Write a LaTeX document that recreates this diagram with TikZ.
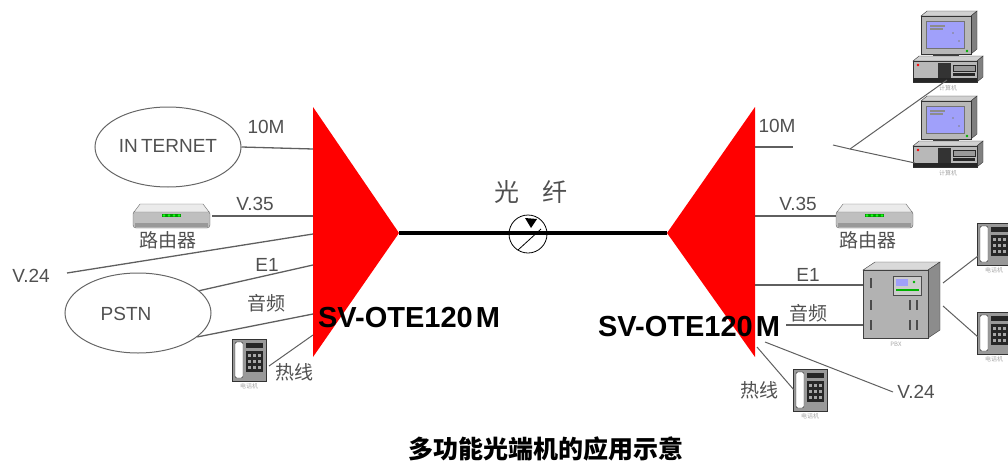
\documentclass[tikz,border=0pt]{standalone}
\usepackage{fontspec}
\setmainfont{Liberation Sans}
\newfontfamily\cjk{Noto Sans CJK SC}
\usetikzlibrary{arrows.meta,shapes.geometric}
\definecolor{screenblue}{RGB}{160,160,250}
\definecolor{wiregray}{RGB}{95,95,95}
\definecolor{labelgray}{RGB}{80,80,80}
\begin{document}
\begin{tikzpicture}[x=1pt,y=-1pt,
  lbl/.style={text=labelgray, font=\fontsize{19}{19}\selectfont, inner sep=0},
  cn/.style={text=labelgray, font=\cjk\fontsize{19}{19}\selectfont, inner sep=0},
  tiny/.style={text=black!35, font=\cjk\fontsize{6}{6}\selectfont, inner sep=0},
  model/.style={text=black, font=\bfseries\fontsize{29}{29}\selectfont, inner sep=0},
  wire/.style={draw=wiregray, line width=1.3pt},
  thinwire/.style={draw=wiregray, line width=1pt},
  cloud/.style={ellipse, draw=black!60, line width=1pt, inner sep=0},
  iconbox/.style={inner sep=0, anchor=north west},
  router/.pic={
    \node[iconbox, minimum width=77pt, minimum height=26pt] (-box) at (0,0) {};
    \filldraw[fill=black!25, draw=black!60, rounded corners=3pt] (0,8) rectangle (77,25);
    \filldraw[fill=black!8, draw=black!60] (1,9) -- (7,1) -- (70,1) -- (76,9) -- cycle;
    \fill[black!40] (2,20) rectangle (75,24);
    \fill[green!60!black] (29,11) rectangle (48,14);
    \foreach \i in {31,36,41,46} \fill[green!90!white] (\i,12.5) circle (1.3);
  },
  computer/.pic={
    \node[iconbox, minimum width=70pt, minimum height=71pt] (-box) at (0,0) {};
    % monitor
    \filldraw[fill=black!18, draw=black!80] (8,5) -- (14,0) -- (64,0) -- (58,5) -- cycle;
    \filldraw[fill=black!50, draw=black!80] (58,5) -- (64,0) -- (64,38) -- (58,43) -- cycle;
    \filldraw[fill=black!28, draw=black!80] (8,5) rectangle (58,43);
    \filldraw[fill=screenblue, draw=black!55] (13,10) rectangle (51,37);
    \draw[black!45, line width=1.2pt] (17,15) -- (32,15) (17,18) -- (30,18);
    \fill[black!50] (40,22) circle (0.9) (46,30) circle (0.9);
    \fill[green!70!black] (54,40) circle (1.3);
    \fill[black!75] (20,43) rectangle (46,46);
    % system unit
    \filldraw[fill=black!18, draw=black!80] (0,50) -- (6,45) -- (70,45) -- (64,50) -- cycle;
    \filldraw[fill=black!50, draw=black!80] (64,50) -- (70,45) -- (70,66) -- (64,71) -- cycle;
    \filldraw[fill=black!28, draw=black!80] (0,50) rectangle (64,71);
    \fill[black!85] (0,67) rectangle (64,71);
    \fill[black!80] (25,52) rectangle (38,67);
    \filldraw[fill=black!40, draw=black!85] (40,54) rectangle (62,60);
    \fill[black!85] (40,62) rectangle (62,65);
    \fill[red] (5,54) circle (1.3);
    \node[tiny] (-lbl) at (35,77) {计算机};
  },
  phone/.pic={
    \node[iconbox, minimum width=34pt, minimum height=42pt] (-box) at (0,0) {};
    \filldraw[fill=black!40, draw=black!80] (0,0) rectangle (34,42);
    \filldraw[fill=white, draw=black!85, rounded corners=1.5pt] (3,3) rectangle (11,39);
    \fill[black!85] (14,4) rectangle (31,9);
    \fill[black!85] (14,12) rectangle (31,33);
    \foreach \x in {16,21,26} \foreach \y in {15,21,27} \fill[black!35] (\x,\y) rectangle ++(3,3);
    \node[tiny] (-lbl) at (17,47) {电话机};
  },
  pbx/.pic={
    \node[iconbox, minimum width=77pt, minimum height=76pt] (-box) at (0,0) {};
    \filldraw[fill=black!15, draw=black!75] (0,8) -- (12,0) -- (77,0) -- (65,8) -- cycle;
    \filldraw[fill=black!45, draw=black!75] (65,8) -- (77,0) -- (77,68) -- (65,76) -- cycle;
    \filldraw[fill=black!30, draw=black!75] (0,8) rectangle (65,76);
    \filldraw[fill=black!20, draw=black!70] (30,14) rectangle (58,33);
    \fill[screenblue] (33,17) rectangle (45,24);
    \draw[green!70!black, line width=1.3pt] (33,28) -- (56,28);
    \fill[green!70!black] (51,20) circle (1.4);
    \foreach \y in {16,38,58} \fill[black!70] (7,\y) rectangle ++(2,10);
    \foreach \y in {38,58} \fill[black!70] (46,\y) rectangle ++(2,10);
    \foreach \y in {38,58} \fill[black!70] (53,\y) rectangle ++(2,10);
    \node[tiny] (-lbl) at (33,82) {PBX};
  }
]
\useasboundingbox (0,0) rectangle (1008,463);

% ---- optical terminals ----
\fill[red] (313,107) -- (399,233) -- (313,357) -- cycle;
\fill[red] (755,107) -- (667,233) -- (755,357) -- cycle;
\coordinate (aL) at (399,233);
\coordinate (aR) at (667,233);

% ---- fibre link ----
\draw[line width=3.5pt] (aL) -- (aR);
\node[circle, draw, line width=0.8pt, minimum size=38pt, inner sep=0] (fib) at (528,234) {};
\coordinate (fibA) at (518,250);
\coordinate (fibB) at (541,229);
\draw[line width=0.8pt] (fibA) -- (fibB);
\fill (525,218) -- (537,219) -- (531,228) -- cycle;
\node[text=labelgray, font=\cjk\fontsize{25}{25}\selectfont, inner sep=0] (fibtxt) at (531,192) {光\hspace{0.9em}纤};

% ---- left side ----
\node[cloud, minimum width=146pt, minimum height=80pt] (inet) at (168,147) {};
\node[lbl] (inettxt) at (168,146) {IN\,TERNET};
\node[cloud, minimum width=146pt, minimum height=80pt] (pstn) at (138,313) {};
\node[lbl] (pstntxt) at (126,314) {PSTN};
\pic (rL) at (133,203) {router};
\node[cn] (rLtxt) at (168,240) {路由器};
\pic (pL) at (232,339) {phone};

\coordinate (L10M) at (313,149);
\coordinate (LV35) at (313,216);
\coordinate (LV24) at (313,234);
\coordinate (LE1) at (313,265);
\coordinate (LAud) at (313,314);
\coordinate (LHot) at (313,335);
\coordinate (v24Lend) at (67,273);
\coordinate (rLport) at (212,216);
\coordinate (pLport) at (269,366);

\draw[wire] (inet.east) -- (L10M);
\draw[wire] (rLport) -- (LV35);
\draw[wire] (v24Lend) -- (LV24);
\draw[wire] (pstn.20) -- (LE1);
\draw[wire] (pstn.-22) -- (LAud);
\draw[thinwire] (pLport) -- (LHot);

\node[lbl] (t10L) at (266,127) {10M};
\node[lbl] (tV35L) at (255,204) {V.35};
\node[lbl] (tV24L) at (31,276) {V.24};
\node[lbl] (tE1L) at (267,265) {E1};
\node[cn] (tAudL) at (266,303) {音频};
\node[cn] (tHotL) at (294,372) {热线};
\node[model] (mL) at (409,318) {SV-OTE120\hspace{3pt}M};

% ---- right side ----
\pic (c1) at (913,11) {computer};
\pic (c2) at (913,96) {computer};
\pic (rR) at (836,203) {router};
\node[cn] (rRtxt) at (868,240) {路由器};
\pic (pbx) at (863,262) {pbx};
\pic (p1) at (977,223) {phone};
\pic (p2) at (977,312) {phone};
\pic (pR) at (793,369) {phone};

\coordinate (R10M) at (755,147);
\coordinate (R10Mend) at (793,147);
\coordinate (lanA) at (833,145);
\coordinate (lanB) at (850,149);
\coordinate (c1port) at (947,80);
\coordinate (c2port) at (915,163);
\coordinate (RV35) at (755,216);
\coordinate (RE1) at (755,285);
\coordinate (RAud) at (786,325);
\coordinate (RHot) at (757,347);
\coordinate (RV24) at (765,342);
\coordinate (v24Rend) at (893,392);
\coordinate (pbxA) at (943,283);
\coordinate (pbxB) at (943,306);
\coordinate (p1port) at (978,256);
\coordinate (p2port) at (978,337);
\coordinate (pRport) at (794,390);

\draw[wire] (R10M) -- (R10Mend);
\draw[thinwire] (lanA) -- (lanB) -- (c1port);
\draw[thinwire] (lanB) -- (c2port);
\draw[wire] (RV35) -- (rR-box.west |- RV35);
\draw[wire] (RE1) -- (pbx-box.west |- RE1);
\draw[wire] (RAud) -- (pbx-box.west |- RAud);
\draw[thinwire] (pbxA) -- (p1port);
\draw[thinwire] (pbxB) -- (p2port);
\draw[thinwire] (RHot) -- (pRport);
\draw[thinwire] (RV24) -- (v24Rend);

\node[lbl] (t10R) at (777,126) {10M};
\node[lbl] (tV35R) at (798,204) {V.35};
\node[lbl] (tE1R) at (808,275) {E1};
\node[cn] (tAudR) at (808,313) {音频};
\node[cn] (tHotR) at (759,390) {热线};
\node[lbl] (tV24R) at (916,392) {V.24};
\node[model] (mR) at (689,327) {SV-OTE120\hspace{3pt}M};

% ---- caption ----
\node[font=\cjk\bfseries\fontsize{25}{25}\selectfont, inner sep=0] (cap) at (546,449) {多功能光端机的应用示意};
\end{tikzpicture}
\end{document}
